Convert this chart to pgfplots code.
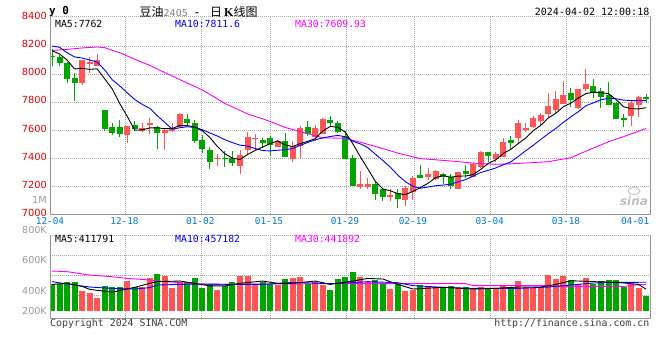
\documentclass[border=0pt]{standalone}
\usepackage{pgfplots}
\pgfplotsset{compat=1.18}
\usepackage{pgfplotstable}
\usepackage{fontspec}
\setmainfont{DejaVu Sans}
\setmonofont{DejaVu Sans Mono}
\newfontfamily\cjk{Noto Sans CJK SC}
\newfontfamily\libserif{Liberation Serif}
\definecolor{cred}{RGB}{255,85,85}
\definecolor{cgreen}{RGB}{0,165,0}
\definecolor{tred}{RGB}{230,0,0}
\definecolor{tblue}{RGB}{0,120,215}
\definecolor{tgray}{RGB}{155,155,155}
\definecolor{gridc}{RGB}{170,170,170}
\definecolor{framec}{RGB}{150,150,150}
\definecolor{cmag}{RGB}{255,0,255}
\definecolor{cblue}{RGB}{0,0,255}

\pgfplotstableread{
x O H L C V
4 7938 8097 7921 8097 400
5 8074 8119 8004 8086 387
6 8059 8143 8059 8100 357
10 7566 7628 7509 7628 467
12 7590 7647 7585 7614 426
13 7633 7688 7569 7652 487
15 7576 7610 7457 7598 500
16 7595 7648 7588 7617 422
17 7619 7719 7619 7717 456
22 7390 7429 7343 7397 406
25 7343 7457 7288 7419 498
26 7460 7583 7421 7550 498
27 7533 7569 7457 7543 443
30 7479 7529 7479 7519 437
32 7391 7521 7371 7486 487
33 7488 7631 7398 7614 493
35 7552 7636 7524 7614 459
36 7571 7686 7571 7679 437
41 7195 7307 7181 7214 491
42 7195 7257 7178 7214 459
45 7124 7178 7093 7133 413
47 7102 7202 7060 7188 400
48 7160 7274 7098 7257 406
50 7267 7329 7243 7285 433
51 7248 7314 7243 7307 426
54 7181 7300 7181 7300 417
56 7267 7369 7267 7360 417
57 7333 7452 7326 7445 426
59 7393 7440 7369 7426 417
60 7410 7545 7405 7514 433
62 7543 7669 7502 7652 465
63 7602 7652 7586 7614 426
64 7624 7700 7617 7686 417
65 7662 7719 7633 7707 426
66 7714 7862 7683 7771 504
67 7743 7876 7714 7819 478
68 7786 7952 7786 7850 498
70 7759 7890 7752 7890 443
71 7893 8036 7879 7929 485
77 7702 7807 7631 7790 443
78 7779 7843 7695 7833 420
}\up

\pgfplotstableread{
x O H L C V
0 8127 8176 8059 8120 443
1 8119 8136 8060 8081 443
2 8081 8085 7933 7964 459
3 7969 8009 7809 7938 459
7 7743 7743 7595 7607 433
8 7621 7647 7564 7581 426
9 7621 7671 7552 7574 426
11 7633 7666 7595 7607 426
14 7621 7629 7464 7576 511
18 7679 7717 7633 7650 456
19 7650 7671 7509 7521 487
20 7529 7564 7438 7467 417
21 7457 7476 7321 7374 443
23 7400 7450 7336 7390 435
24 7397 7450 7340 7367 459
28 7529 7543 7474 7510 459
29 7543 7560 7414 7490 443
31 7521 7579 7405 7405 480
34 7621 7664 7560 7571 446
37 7669 7702 7621 7650 406
38 7652 7662 7579 7586 478
39 7557 7595 7395 7395 491
40 7400 7421 7200 7200 524
43 7214 7233 7102 7145 472
44 7178 7178 7093 7124 450
46 7148 7178 7045 7107 450
49 7276 7348 7260 7260 439
52 7285 7295 7217 7262 426
53 7262 7286 7176 7200 433
55 7307 7350 7255 7288 426
58 7440 7440 7369 7414 417
61 7529 7560 7467 7510 417
69 7862 7898 7767 7814 472
72 7914 7964 7831 7864 443
73 7876 7898 7760 7838 465
74 7848 7943 7779 7779 472
75 7790 7802 7679 7679 472
76 7686 7712 7624 7674 426
79 7833 7860 7795 7821 367
}\down

\pgfplotsset{
  kgrid/.style={
    scale only axis, width=600pt,
    xmin=-0.266, xmax=79.52,
    axis line style={draw=none}, tick style={draw=none},
    xtick={9.75,19.81,28.99,39.1,48.18,58.34,68.44}, xticklabels={},
    yticklabels={},
    xmajorgrids, ymajorgrids,
    major grid style={draw=gridc, line width=0.8pt, dash pattern=on 0.8pt off 1.2pt},
  },
  wick/.style={draw=none, mark=none, forget plot,
    error bars/.cd, y dir=plus, y explicit, error mark=none,
    error bar style={line width=1pt, draw=#1, solid}},
  body/.style={draw=none, mark=none, forget plot,
    error bars/.cd, y dir=plus, y explicit, error mark=none,
    error bar style={line width=6pt, draw=#1, solid}},
}

\begin{document}
\begin{tikzpicture}
\path[use as bounding box] (0,0) rectangle (660pt,-360pt);

% ---------------- price panel ----------------
\begin{axis}[kgrid, at={(50pt,-16pt)}, anchor=north west, height=198pt,
  ymin=7000, ymax=8414.29, ytick={7200,7400,7600,7800,8000,8200}]
\addplot[wick=cred] table[x=x, y=L, y error plus expr=\thisrow{H}-\thisrow{L}] \up;
\addplot[body=cred] table[x=x, y=O, y error plus expr={max(\thisrow{C}-\thisrow{O},7)}] \up;
\addplot[wick=cgreen] table[x=x, y=L, y error plus expr=\thisrow{H}-\thisrow{L}] \down;
\addplot[body=cgreen] table[x=x, y=C, y error plus expr={max(\thisrow{O}-\thisrow{C},7)}] \down;
% MA30
\addplot[cmag, line width=0.9pt, mark=none] coordinates {
(0,8168)(2,8176)(4,8186)(6,8193)(7,8188)(9,8152)(11,8105)(13,8062)(15,8010)(17,7960)
(20,7886)(23,7790)(26,7715)(28,7680)(29,7661.2)(31,7618.5)(34,7574.3)(36,7544.5)(39,7540.1)
(41,7512.8)(44,7467.5)(46,7435)(49,7395.5)(51,7387.2)(54,7374.2)(56,7363.5)(59,7354.9)
(61,7358.3)(64,7367.6)(66,7373.8)(69,7402.2)(71,7449)(74,7515.6)(76,7552.7)(79,7610.7)};
% MA10
\addplot[cblue, line width=0.9pt, mark=none] coordinates {
(0,8200)(1,8191)(2,8152)(3,8122)(4,8114)(5,8100)(6,8085)(7,8030)(8,7960)(9,7915.2)
(10,7865.6)(11,7818.2)(12,7783.2)(13,7754.6)(14,7702.5)(15,7653.7)(16,7605.4)(17,7616.4)
(18,7623.3)(19,7618)(20,7601.9)(21,7578.6)(22,7556.7)(23,7530.5)(24,7509.6)(25,7491.7)
(26,7485)(27,7467.6)(28,7453.6)(29,7450.5)(30,7455.7)(31,7458.8)(32,7467.9)(33,7490.3)
(34,7510.7)(35,7530.2)(36,7543.1)(37,7553.8)(38,7561.4)(39,7551.9)(40,7520)(41,7500.9)
(42,7473.7)(43,7426.8)(44,7382.1)(45,7334)(46,7276.8)(47,7230.6)(48,7197.7)(49,7184.2)
(50,7192.7)(51,7202)(52,7206.8)(53,7212.3)(54,7229.9)(55,7245.4)(56,7270.7)(57,7296.4)
(58,7312.1)(59,7328.7)(60,7351.6)(61,7371.9)(62,7410.9)(63,7452.3)(64,7490.9)(65,7532.8)
(66,7573.9)(67,7611.3)(68,7654.9)(69,7693.7)(70,7731.3)(71,7773.2)(72,7794.4)(73,7816.8)
(74,7826.1)(75,7823.3)(76,7813.6)(77,7810.7)(78,7809)(79,7809.7)};
% MA5
\addplot[black, line width=0.9pt, mark=none] coordinates {
(0,8166)(1,8143)(2,8100)(3,8036)(4,8040.8)(5,8033.2)(6,8037)(7,7965.6)(8,7894.2)(9,7789.6)
(10,7698)(11,7599.4)(12,7600.8)(13,7615)(14,7615.4)(15,7609.4)(16,7611.4)(17,7632)
(18,7631.6)(19,7620.6)(20,7594.4)(21,7545.8)(22,7481.8)(23,7429.8)(24,7399)(25,7389.4)
(26,7424.6)(27,7453.8)(28,7477.8)(29,7502.4)(30,7522.4)(31,7493.4)(32,7482)(33,7502.8)
(34,7519)(35,7538)(36,7592.8)(37,7625.6)(38,7620)(39,7584.8)(40,7502)(41,7409)
(42,7321.8)(43,7233.6)(44,7179.4)(45,7166)(46,7144.6)(47,7139.4)(48,7161.8)(49,7189)
(50,7219.4)(51,7259.4)(52,7274.2)(53,7262.8)(54,7270.8)(55,7271.4)(56,7282)(57,7318.6)
(58,7361.4)(59,7386.6)(60,7431.8)(61,7461.8)(62,7503.2)(63,7543.2)(64,7595.2)(65,7633.8)
(66,7686)(67,7719.4)(68,7766.6)(69,7792.2)(70,7828.8)(71,7860.4)(72,7869.4)(73,7867)
(74,7860)(75,7817.8)(76,7766.8)(77,7752)(78,7751)(79,7759.4)};
\end{axis}

% ---------------- volume panel ----------------
\begin{axis}[kgrid, at={(50pt,-235pt)}, anchor=north west, height=83pt,
  ymin=224.1, ymax=764.8, ytick={369.4,504.2,634.5}]
\addplot[body=cred] table[x=x, y expr=270, y error plus expr=\thisrow{V}-270] \up;
\addplot[body=cgreen] table[x=x, y expr=270, y error plus expr=\thisrow{V}-270] \down;
\addplot[cmag, line width=0.9pt, mark=none] coordinates {
(0,530)(2,526)(3,519)(5,504)(8,493)(10,482)(13,472)(15,461)(18,450)(20,443)(30,446)
(37,448)(55,448)(56,435)(66,435)(67,430)(76,430)(78,441)(79,442)};
\addplot[cblue, line width=0.9pt, mark=none] coordinates {
(0,461)(2,446)(5,426)(8,417)(11,413)(13,422)(14,439)(17,443)(20,446)(24,443)(28,443)
(32,456)(37,448)(40,454)(42,461)(46,454)(48,435)(52,424)(56,417)(62,417)(66,426)
(69,439)(72,452)(75,456)(79,457)};
\addplot[black, line width=0.9pt, mark=none] coordinates {
(0,443)(2,450)(4,430)(5,411)(8,392)(11,424)(13,450)(14,461)(17,465)(19,450)(21,433)
(23,433)(25,450)(28,465)(30,450)(32,450)(35,465)(37,443)(40,465)(42,482)(44,478)
(46,443)(48,413)(52,424)(56,413)(59,417)(62,426)(65,426)(67,443)(69,467)(72,461)
(75,457)(78,443)(79,412)};
\end{axis}

% ---------------- frames ----------------
\draw[framec, line width=1pt] (50pt,-16pt) -- (50pt,-214pt) -- (650pt,-214pt) -- (650pt,-16pt);
\draw[gridc, line width=0.8pt, dash pattern=on 0.8pt off 1.2pt] (50pt,-16pt) -- (650pt,-16pt);
\draw[framec, line width=1pt] (50pt,-235pt) -- (50pt,-318pt) -- (650pt,-318pt) -- (650pt,-235pt);
\draw[gridc, line width=0.8pt, dash pattern=on 0.8pt off 1.2pt] (50pt,-235pt) -- (650pt,-235pt);

% ---------------- price labels ----------------
\begin{scope}[every node/.style={anchor=east, inner sep=0pt, text=tred, font=\fontsize{9.8}{10}\selectfont}]
\node at (47pt,-16pt) {8400};
\node at (47pt,-44pt) {8200};
\node at (47pt,-72pt) {8000};
\node at (47pt,-100pt) {7800};
\node at (47pt,-128.5pt) {7600};
\node at (47pt,-156.5pt) {7400};
\node at (47pt,-184.5pt) {7200};
\node at (47pt,-212.5pt) {7000};
\node[text=tgray] at (47pt,-200pt) {1M};
\end{scope}
% ---------------- volume labels ----------------
\begin{scope}[every node/.style={anchor=east, inner sep=0pt, text=tgray, font=\fontsize{9.6}{10}\selectfont}]
\node at (47pt,-230pt) {800K};
\node at (47pt,-260pt) {600K};
\node at (47pt,-290.7pt) {400K};
\node at (47pt,-311pt) {200K};
\end{scope}
% ---------------- date labels ----------------
\begin{scope}[every node/.style={inner sep=0pt, text=tblue, font=\ttfamily\fontsize{9.4}{10}\selectfont}]
\node at (50pt,-221pt) {12-04};
\node at (124.5pt,-221pt) {12-18};
\node at (200.3pt,-221pt) {01-02};
\node at (269pt,-221pt) {01-15};
\node at (345pt,-221pt) {01-29};
\node at (413pt,-221pt) {02-19};
\node at (489.7pt,-221pt) {03-04};
\node at (566pt,-221pt) {03-18};
\node[anchor=east] at (649.5pt,-221pt) {04-01};
\end{scope}

% ---------------- header ----------------
\node[anchor=west, inner sep=0pt, font=\ttfamily\bfseries\fontsize{11}{12}\selectfont] at (49pt,-11.5pt) {y 0};
\node[anchor=west, inner sep=0pt, font=\fontsize{12}{13}\selectfont] at (139.5pt,-11.5pt)
  {{\cjk 豆油}{\color{gray}\fontsize{9.5}{10}\selectfont 2405}\hspace{7pt}-\hspace{11pt}{\cjk 日}\hspace{2pt}{\libserif\bfseries K}{\cjk 线图}};
\node[anchor=east, inner sep=0pt, font=\ttfamily\fontsize{10}{11}\selectfont] at (649.5pt,-12pt) {2024-04-02 12:00:18};

% ---------------- MA captions ----------------
\begin{scope}[every node/.style={anchor=west, inner sep=0pt, font=\ttfamily\fontsize{9.8}{10}\selectfont}]
\node at (55pt,-24pt) {MA5:7762};
\node[text=cblue] at (175pt,-24pt) {MA10:7811.6};
\node[text=cmag] at (295pt,-24pt) {MA30:7609.93};
\node at (55pt,-238.5pt) {MA5:411791};
\node[text=cblue] at (175pt,-238.5pt) {MA10:457182};
\node[text=cmag] at (295pt,-238.5pt) {MA30:441892};
\end{scope}

% ---------------- footer ----------------
\node[anchor=west, inner sep=0pt, text=black!75, font=\ttfamily\fontsize{9.9}{10}\selectfont] at (50pt,-324pt) {Copyright 2024 SINA.COM};
\node[anchor=east, inner sep=0pt, text=black!75, font=\ttfamily\fontsize{9.9}{10}\selectfont] at (649.5pt,-324pt) {http://finance.sina.com.cn};

% watermark
\node[inner sep=0pt, text=black!25, font=\bfseries\itshape\fontsize{12}{12}\selectfont] at (634pt,-201pt) {sina};
\draw[black!20, line width=1.2pt] (634pt,-191pt) ellipse (6pt and 3.5pt);
\end{tikzpicture}
\end{document}
